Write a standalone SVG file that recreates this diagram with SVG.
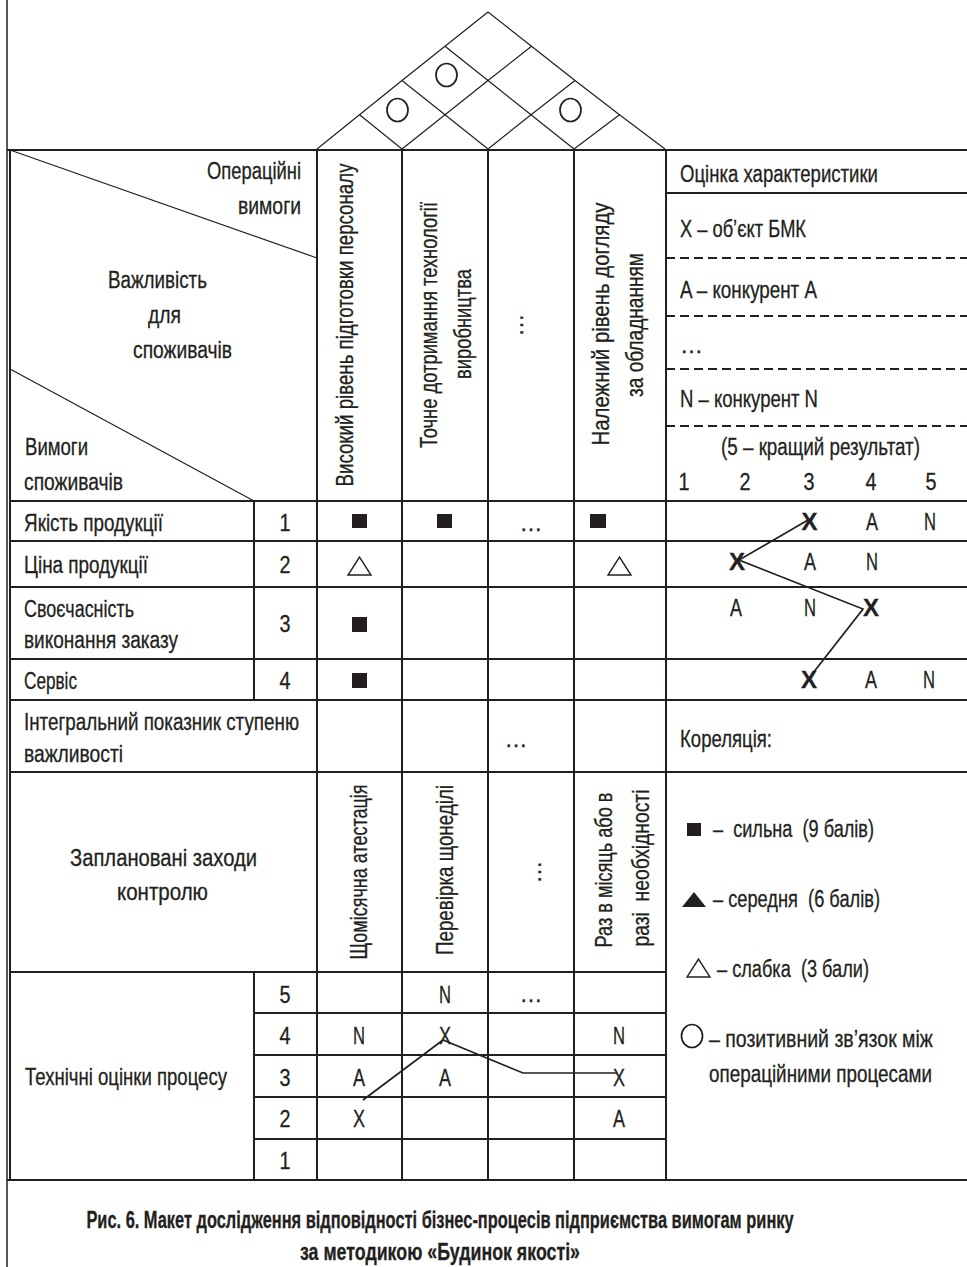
<svg xmlns="http://www.w3.org/2000/svg" width="967" height="1267" viewBox="0 0 967 1267">
<style>
text{font-family:"Liberation Sans Narrow","Liberation Sans",Arial,sans-serif;font-size:23px;fill:#231f20;stroke:#231f20;stroke-width:0.3}
.b{font-weight:bold}
.m{text-anchor:middle}
.cap{font-size:23px;font-weight:bold}
.g{stroke:#231f20;stroke-width:2;fill:none}
.f{stroke:#231f20;stroke-width:1.5;fill:none}
.t{stroke:#231f20;stroke-width:1.2;fill:none}
.c{stroke:#231f20;stroke-width:1.7;fill:none}
.d{stroke:#231f20;stroke-width:2;stroke-dasharray:9 5;fill:none}
.sq{fill:#231f20}
.tri{fill:#fff;stroke:#231f20;stroke-width:1.4}
</style>
<rect width="967" height="1267" fill="#fff"/>

<g id="frame">
<line class="f" x1="7" y1="0" x2="7" y2="1267"/>
<line class="g" x1="7" y1="150" x2="967" y2="150"/>
<line class="g" x1="7" y1="1180" x2="967" y2="1180"/>
</g>

<g id="roof">
<polyline class="t" points="317,149 359.5,114.75 402,80.5 445,46.25 488,12"/>
<polyline class="t" points="402,149 445,114.75 488,80.5 531.5,46.25"/>
<polyline class="t" points="488,149 531,114.75 575,80.5"/>
<polyline class="t" points="574,149 619.5,114.75"/>
<polyline class="t" points="488,12 531.5,46.25 575,80.5 619.5,114.75 665,149"/>
<polyline class="t" points="445,46.25 488,80.5 531,114.75 574,149"/>
<polyline class="t" points="402,80.5 445,114.75 488,149"/>
<polyline class="t" points="359.5,114.75 402,149"/>
<ellipse class="c" cx="446.5" cy="75" rx="10.5" ry="11.5"/>
<ellipse class="c" cx="397.5" cy="110" rx="10.5" ry="11.5"/>
<ellipse class="c" cx="570.5" cy="110" rx="10.5" ry="11.5"/>
</g>

<g id="grid">
<line class="g" x1="10" y1="150" x2="10" y2="1180"/>
<line class="g" x1="10" y1="501" x2="967" y2="501"/>
<line class="g" x1="10" y1="541" x2="967" y2="541"/>
<line class="g" x1="10" y1="587" x2="967" y2="587"/>
<line class="g" x1="10" y1="659" x2="967" y2="659"/>
<line class="g" x1="10" y1="700" x2="967" y2="700"/>
<line class="g" x1="10" y1="772" x2="967" y2="772"/>
<line class="g" x1="10" y1="972" x2="666" y2="972"/>
<line class="g" x1="254" y1="1013" x2="666" y2="1013"/>
<line class="g" x1="254" y1="1055" x2="666" y2="1055"/>
<line class="g" x1="254" y1="1097" x2="666" y2="1097"/>
<line class="g" x1="254" y1="1139" x2="666" y2="1139"/>
<line class="g" x1="254" y1="501" x2="254" y2="700"/>
<line class="g" x1="254" y1="972" x2="254" y2="1180"/>
<line class="g" x1="317" y1="150" x2="317" y2="1180"/>
<line class="g" x1="402" y1="150" x2="402" y2="1180"/>
<line class="g" x1="488" y1="150" x2="488" y2="1180"/>
<line class="g" x1="574" y1="150" x2="574" y2="1180"/>
<line class="g" x1="666" y1="150" x2="666" y2="1180"/>
<line class="g" x1="666" y1="193" x2="967" y2="193"/>
<line class="d" x1="666" y1="258" x2="967" y2="258"/>
<line class="d" x1="666" y1="316" x2="967" y2="316"/>
<line class="d" x1="666" y1="369" x2="967" y2="369"/>
<line class="d" x1="666" y1="426" x2="967" y2="426"/>
<line class="t" x1="10" y1="150" x2="317" y2="258"/>
<line class="t" x1="10" y1="369" x2="254" y2="501"/>
</g>

<g id="header">
<text x="207" y="179" textLength="94" lengthAdjust="spacingAndGlyphs">Операційні</text>
<text x="238" y="214" textLength="63" lengthAdjust="spacingAndGlyphs">вимоги</text>
<text x="108" y="288" textLength="99" lengthAdjust="spacingAndGlyphs">Важливість</text>
<text x="148" y="323" textLength="33" lengthAdjust="spacingAndGlyphs">для</text>
<text x="133" y="358" textLength="99" lengthAdjust="spacingAndGlyphs">споживачів</text>
<text x="25" y="455" textLength="63" lengthAdjust="spacingAndGlyphs">Вимоги</text>
<text x="24" y="490" textLength="99" lengthAdjust="spacingAndGlyphs">споживачів</text>
<text class="m" transform="translate(353,325) rotate(-90)" textLength="323" lengthAdjust="spacingAndGlyphs">Високий рівень підготовки персоналу</text>
<text class="m" transform="translate(437,325) rotate(-90)" textLength="246" lengthAdjust="spacingAndGlyphs">Точне дотримання технології</text>
<text class="m" transform="translate(471,324) rotate(-90)" textLength="110" lengthAdjust="spacingAndGlyphs">виробництва</text>
<text class="m" transform="translate(523,325) rotate(-90)">…</text>
<text class="m" transform="translate(609,324) rotate(-90)" textLength="243" lengthAdjust="spacingAndGlyphs">Належний рівень догляду</text>
<text class="m" transform="translate(643,325) rotate(-90)" textLength="144" lengthAdjust="spacingAndGlyphs">за обладнанням</text>
</g>

<g id="assessment">
<text x="680" y="182" textLength="198" lengthAdjust="spacingAndGlyphs">Оцінка характеристики</text>
<text x="680" y="237" textLength="126" lengthAdjust="spacingAndGlyphs">X – об’єкт БМК</text>
<text x="680" y="298" textLength="137" lengthAdjust="spacingAndGlyphs">A – конкурент A</text>
<text x="680" y="353">…</text>
<text x="680" y="407" textLength="138" lengthAdjust="spacingAndGlyphs">N – конкурент N</text>
<text x="721" y="455" textLength="199" lengthAdjust="spacingAndGlyphs">(5 – кращий результат)</text>
<text class="m" x="684" y="490" textLength="11" lengthAdjust="spacingAndGlyphs">1</text>
<text class="m" x="745" y="490" textLength="11" lengthAdjust="spacingAndGlyphs">2</text>
<text class="m" x="809" y="490" textLength="11" lengthAdjust="spacingAndGlyphs">3</text>
<text class="m" x="871" y="490" textLength="11" lengthAdjust="spacingAndGlyphs">4</text>
<text class="m" x="931" y="490" textLength="11" lengthAdjust="spacingAndGlyphs">5</text>
</g>

<g id="row1">
<text x="24" y="531" textLength="139" lengthAdjust="spacingAndGlyphs">Якість продукції</text>
<text class="m" x="285" y="531" textLength="11" lengthAdjust="spacingAndGlyphs">1</text>
<rect class="sq" x="352" y="514" width="15" height="14"/>
<rect class="sq" x="437" y="514" width="15" height="14"/>
<text class="m" x="531" y="531">…</text>
<rect class="sq" x="590" y="514" width="16" height="14"/>
<text class="m b" x="809.5" y="530" textLength="16" lengthAdjust="spacingAndGlyphs">X</text>
<text class="m" x="872" y="530" textLength="12" lengthAdjust="spacingAndGlyphs">A</text>
<text class="m" x="930" y="530" textLength="12" lengthAdjust="spacingAndGlyphs">N</text>
</g>

<g id="row2">
<text x="24" y="573" textLength="124" lengthAdjust="spacingAndGlyphs">Ціна продукції</text>
<text class="m" x="285" y="573" textLength="11" lengthAdjust="spacingAndGlyphs">2</text>
<polygon class="tri" points="348,575 371,575 359.5,557"/>
<polygon class="tri" points="608,575 631,575 619.5,557"/>
<text class="m b" x="737" y="570" textLength="16" lengthAdjust="spacingAndGlyphs">X</text>
<text class="m" x="810" y="570" textLength="12" lengthAdjust="spacingAndGlyphs">A</text>
<text class="m" x="872" y="570" textLength="12" lengthAdjust="spacingAndGlyphs">N</text>
</g>

<g id="row3">
<text x="24" y="617" textLength="110" lengthAdjust="spacingAndGlyphs">Своєчасність</text>
<text x="24" y="648" textLength="154" lengthAdjust="spacingAndGlyphs">виконання заказу</text>
<text class="m" x="285" y="632" textLength="11" lengthAdjust="spacingAndGlyphs">3</text>
<rect class="sq" x="352" y="617" width="15" height="15"/>
<text class="m" x="736" y="616" textLength="12" lengthAdjust="spacingAndGlyphs">A</text>
<text class="m" x="810" y="616" textLength="12" lengthAdjust="spacingAndGlyphs">N</text>
<text class="m b" x="871" y="616" textLength="16" lengthAdjust="spacingAndGlyphs">X</text>
</g>

<g id="row4">
<text x="24" y="689" textLength="53" lengthAdjust="spacingAndGlyphs">Сервіс</text>
<text class="m" x="285" y="689" textLength="11" lengthAdjust="spacingAndGlyphs">4</text>
<rect class="sq" x="352" y="673" width="15" height="15"/>
<text class="m b" x="809" y="688" textLength="16" lengthAdjust="spacingAndGlyphs">X</text>
<text class="m" x="871" y="688" textLength="12" lengthAdjust="spacingAndGlyphs">A</text>
<text class="m" x="929" y="688" textLength="12" lengthAdjust="spacingAndGlyphs">N</text>
</g>

<g id="integral">
<text x="24" y="730" textLength="275" lengthAdjust="spacingAndGlyphs">Інтегральний показник ступеню</text>
<text x="24" y="762" textLength="99" lengthAdjust="spacingAndGlyphs">важливості</text>
<text class="m" x="516" y="747">…</text>
<text x="680" y="747" textLength="92" lengthAdjust="spacingAndGlyphs">Кореляція:</text>
</g>

<g id="control">
<text x="70" y="866" textLength="187" lengthAdjust="spacingAndGlyphs">Заплановані заходи</text>
<text x="117" y="900" textLength="91" lengthAdjust="spacingAndGlyphs">контролю</text>
<text class="m" transform="translate(367,872) rotate(-90)" textLength="175" lengthAdjust="spacingAndGlyphs">Щомісячна атестація</text>
<text class="m" transform="translate(453,870) rotate(-90)" textLength="170" lengthAdjust="spacingAndGlyphs">Перевірка щонеділі</text>
<text class="m" transform="translate(540.5,872) rotate(-90)">…</text>
<text class="m" transform="translate(612,870) rotate(-90)" textLength="155" lengthAdjust="spacingAndGlyphs">Раз в місяць або в</text>
<text class="m" transform="translate(649,868) rotate(-90)" textLength="157" lengthAdjust="spacingAndGlyphs" xml:space="preserve">разі  необхідності</text>
</g>

<g id="legend">
<rect class="sq" x="687" y="823" width="14" height="13"/>
<text x="713" y="837" textLength="161" lengthAdjust="spacingAndGlyphs" xml:space="preserve">–  сильна  (9 балів)</text>
<polygon class="sq" points="682,907 706,907 694,892"/>
<text x="713" y="907" textLength="167" lengthAdjust="spacingAndGlyphs" xml:space="preserve">– середня  (6 балів)</text>
<polygon class="tri" points="687,977 710,977 698.5,959"/>
<text x="717" y="977" textLength="152" lengthAdjust="spacingAndGlyphs" xml:space="preserve">– слабка  (3 бали)</text>
<ellipse class="c" cx="692" cy="1036" rx="10.5" ry="11.5"/>
<text transform="translate(709,1047) scale(0.848,1)">– позитивний зв’язок між</text>
<text transform="translate(709,1082) scale(0.82,1)">операційними процесами</text>
</g>

<g id="technical">
<text x="25" y="1085" textLength="202" lengthAdjust="spacingAndGlyphs">Технічні оцінки процесу</text>
<text class="m" x="285" y="1003" textLength="11" lengthAdjust="spacingAndGlyphs">5</text>
<text class="m" x="285" y="1044" textLength="11" lengthAdjust="spacingAndGlyphs">4</text>
<text class="m" x="285" y="1086" textLength="11" lengthAdjust="spacingAndGlyphs">3</text>
<text class="m" x="285" y="1127" textLength="11" lengthAdjust="spacingAndGlyphs">2</text>
<text class="m" x="285" y="1169" textLength="11" lengthAdjust="spacingAndGlyphs">1</text>
<text class="m" x="359" y="1044" textLength="12" lengthAdjust="spacingAndGlyphs">N</text>
<text class="m" x="359" y="1086" textLength="12" lengthAdjust="spacingAndGlyphs">A</text>
<text class="m" x="359" y="1127" textLength="12" lengthAdjust="spacingAndGlyphs">X</text>
<text class="m" x="445" y="1003" textLength="12" lengthAdjust="spacingAndGlyphs">N</text>
<text class="m" x="445" y="1044" textLength="12" lengthAdjust="spacingAndGlyphs">X</text>
<text class="m" x="445" y="1086" textLength="12" lengthAdjust="spacingAndGlyphs">A</text>
<text class="m" x="531" y="1002">…</text>
<text class="m" x="619" y="1044" textLength="12" lengthAdjust="spacingAndGlyphs">N</text>
<text class="m" x="619" y="1086" textLength="12" lengthAdjust="spacingAndGlyphs">X</text>
<text class="m" x="619" y="1127" textLength="12" lengthAdjust="spacingAndGlyphs">A</text>
</g>

<g id="connectors">
<polyline class="c" points="808,520 739,560 863,609 813,673"/>
<polyline class="c" points="363,1100 443,1040 523,1073 617,1073"/>
</g>

<g id="caption">
<text class="cap m" transform="translate(440,1228) scale(0.713,1)">Рис. 6. Макет дослідження відповідності бізнес-процесів підприємства вимогам ринку</text>
<text class="cap m" x="440" y="1260" textLength="280" lengthAdjust="spacingAndGlyphs">за методикою «Будинок якості»</text>
</g>
</svg>
